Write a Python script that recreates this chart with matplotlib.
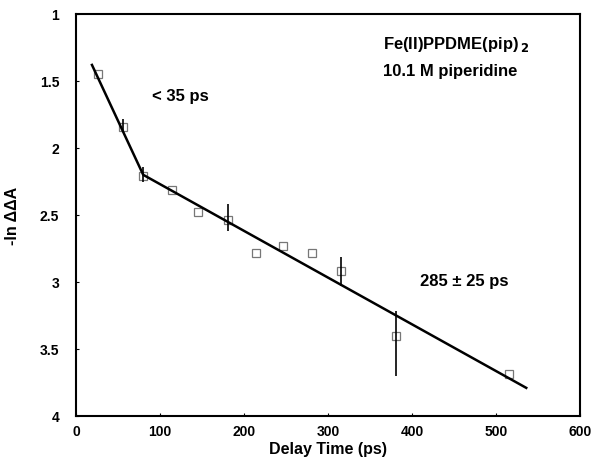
import matplotlib
matplotlib.use("Agg")
import matplotlib.pyplot as plt
import numpy as np

plt.rcParams['font.family'] = ['Liberation Sans', 'DejaVu Sans']
plt.rcParams['font.weight'] = 'bold'

# data points
delay = [26, 56, 80, 114, 145, 181, 214, 246, 281, 315, 381, 515]
neg_ln = [1.45, 1.84, 2.21, 2.31, 2.48, 2.54, 2.78, 2.73, 2.78, 2.92, 3.40, 3.69]
# error bars (lower, upper) in data units; 0 = none
err_low = [0, 0.06, 0.07, 0, 0, 0.12, 0, 0, 0, 0.11, 0.18, 0]
err_high = [0, 0.03, 0.04, 0, 0, 0.08, 0, 0, 0, 0.11, 0.30, 0]

# fitted lines
fit_x = [19, 80, 536]
fit_y = [1.38, 2.20, 3.79]

xticks = [0, 100, 200, 300, 400, 500, 600]
yticks = [1, 1.5, 2, 2.5, 3, 3.5, 4]
yticklabels = ['1', '1.5', '2', '2.5', '3', '3.5', '4']

fig = plt.figure(figsize=(5.95, 4.64), dpi=100)
ax = fig.add_axes([76/595, 1 - 417/464, (580-76)/595, (417-15)/464])

ax.plot(fit_x, fit_y, color='black', lw=1.8, zorder=3)
ax.plot(delay, neg_ln, linestyle='none', marker='s', markersize=6,
        markerfacecolor='none', markeredgecolor='#777777', markeredgewidth=0.9, zorder=2)

idx = [i for i in range(len(delay)) if err_low[i] > 0]
ax.errorbar([delay[i] for i in idx], [neg_ln[i] for i in idx],
            yerr=[[err_low[i] for i in idx], [err_high[i] for i in idx]],
            fmt='none', ecolor='black', elinewidth=1.2, capsize=0, zorder=3)

ax.set_xlim(0, 600)
ax.set_ylim(4, 1)
ax.set_xticks(xticks)
ax.set_yticks(yticks)
ax.set_yticklabels(yticklabels)
ax.tick_params(direction='in', length=2, width=0.8, labelsize=10)
ax.tick_params(axis='y', pad=12)
ax.tick_params(axis='x', pad=6)
for s in ax.spines.values():
    s.set_linewidth(1.5)

ax.set_xlabel('Delay Time (ps)', fontsize=11.5, fontweight='bold', labelpad=2)
ax.set_ylabel('-ln ΔΔA', fontsize=11.5, fontweight='bold', labelpad=14)

ax.text(366, 1.22, r'Fe(II)PPDME(pip)$_{\,2}$', fontsize=12, fontweight='bold', va='center')
ax.text(366, 1.42, '10.1 M piperidine', fontsize=12, fontweight='bold', va='center')
ax.text(90, 1.61, '< 35 ps', fontsize=12, fontweight='bold', va='center')
ax.text(410, 2.99, '285 ± 25 ps', fontsize=12, fontweight='bold', va='center')

fig.savefig('out.png', dpi=100)
